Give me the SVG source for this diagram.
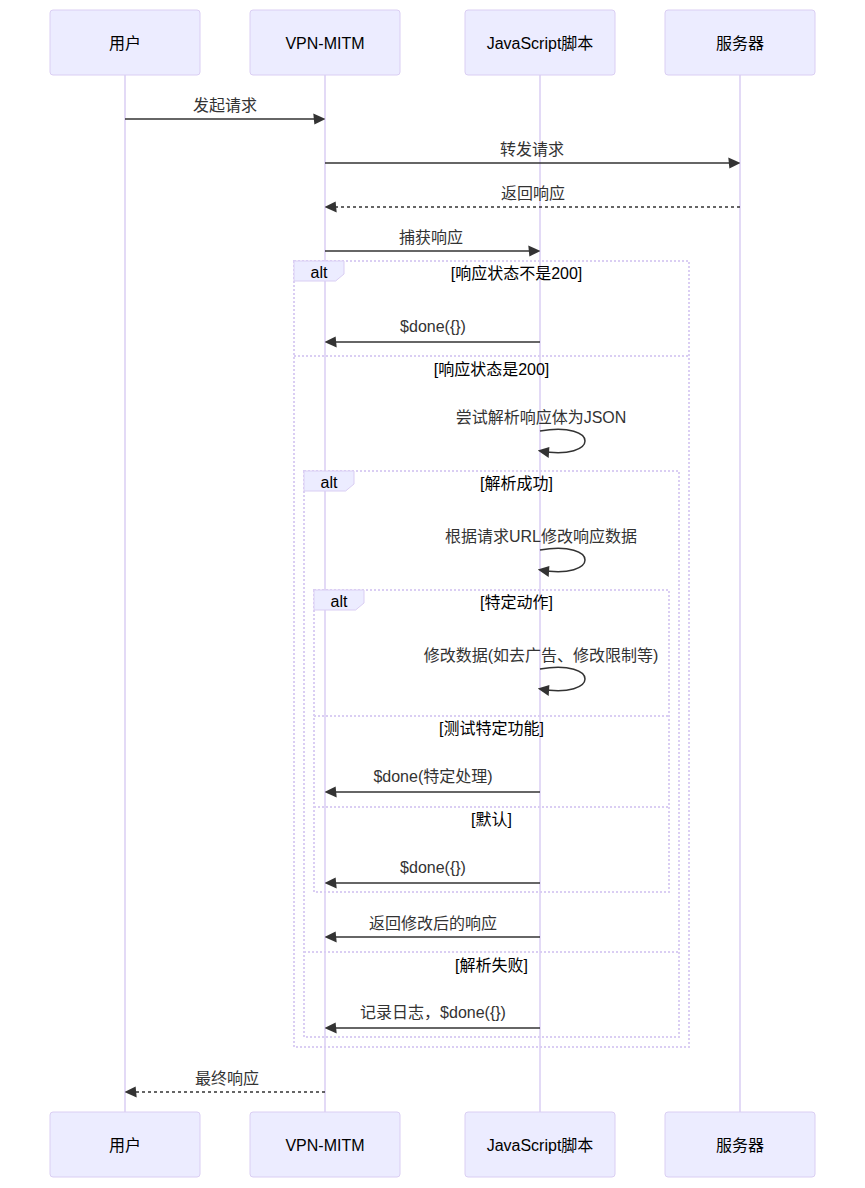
<svg xmlns="http://www.w3.org/2000/svg" width="865" height="1188" viewBox="0 0 865 1188">
<style>
text{font-family:"Liberation Sans","Noto Sans CJK SC",sans-serif;font-size:16px;text-anchor:middle;dominant-baseline:central}
.actor{fill:#ECECFF;stroke:#DACEF3;stroke-width:1}
.life{stroke:#DACEF3;stroke-width:1.5}
.msg{stroke:#333;stroke-width:1.5;fill:none}
.dash{stroke-dasharray:3,3}
.mt{fill:#333}
.lt{fill:#000}
.loop{stroke:#DACEF3;stroke-width:2;stroke-dasharray:2,2;fill:none}
.lbox{fill:#ECECFF;stroke:#DACEF3;stroke-width:1}
.at{fill:#000}
</style>
<defs>
<marker id="ah" viewBox="-1 0 11 10" refX="7.9" refY="5" markerUnits="userSpaceOnUse" markerWidth="12" markerHeight="12" orient="auto">
<path d="M -1 0 L 10 5 L 0 10 z" fill="#333"/>
</marker>
</defs>
<g id="lifelines">
<line class="life" x1="125" y1="75" x2="125" y2="1112"/>
<line class="life" x1="325" y1="75" x2="325" y2="1112"/>
<line class="life" x1="540" y1="75" x2="540" y2="1112"/>
<line class="life" x1="740" y1="75" x2="740" y2="1112"/>
</g>
<g id="actor-user"><rect class="actor" x="50" y="10" width="150" height="65" rx="3"/><text x="125" y="43">用户</text></g>
<g id="actor-vpn"><rect class="actor" x="250" y="10" width="150" height="65" rx="3"/><text x="325" y="43">VPN-MITM</text></g>
<g id="actor-js"><rect class="actor" x="465" y="10" width="150" height="65" rx="3"/><text x="540" y="43">JavaScript脚本</text></g>
<g id="actor-server"><rect class="actor" x="665" y="10" width="150" height="65" rx="3"/><text x="740" y="43">服务器</text></g>
<g id="actor-user-b"><rect class="actor" x="50" y="1112" width="150" height="65" rx="3"/><text x="125" y="1145">用户</text></g>
<g id="actor-vpn-b"><rect class="actor" x="250" y="1112" width="150" height="65" rx="3"/><text x="325" y="1145">VPN-MITM</text></g>
<g id="actor-js-b"><rect class="actor" x="465" y="1112" width="150" height="65" rx="3"/><text x="540" y="1145">JavaScript脚本</text></g>
<g id="actor-server-b"><rect class="actor" x="665" y="1112" width="150" height="65" rx="3"/><text x="740" y="1145">服务器</text></g>
<g id="frames">
<rect class="loop" x="294" y="261" width="395" height="786"/>
<line class="loop" x1="294" y1="356" x2="689" y2="356"/>
<polygon class="lbox" points="294,261 344,261 344,274 335.6,281 294,281"/>
<text class="at" x="319" y="272">alt</text>
<text class="lt" x="516.5" y="273">[响应状态不是200]</text>
<text class="lt" x="491.5" y="369">[响应状态是200]</text>
<rect class="loop" x="304" y="471" width="375" height="566"/>
<line class="loop" x1="304" y1="952" x2="679" y2="952"/>
<polygon class="lbox" points="304,471 354,471 354,484 345.6,491 304,491"/>
<text class="at" x="329" y="482">alt</text>
<text class="lt" x="516.5" y="483">[解析成功]</text>
<text class="lt" x="491.5" y="965">[解析失败]</text>
<rect class="loop" x="314" y="590" width="355" height="302"/>
<line class="loop" x1="314" y1="716" x2="669" y2="716"/>
<line class="loop" x1="314" y1="807" x2="669" y2="807"/>
<polygon class="lbox" points="314,590 364,590 364,603 355.6,610 314,610"/>
<text class="at" x="339" y="601">alt</text>
<text class="lt" x="516.5" y="602">[特定动作]</text>
<text class="lt" x="491.5" y="728">[测试特定功能]</text>
<text class="lt" x="491.5" y="819">[默认]</text>
</g>
<g id="messages">
<text class="mt" x="225" y="105">发起请求</text>
<line class="msg" x1="125" y1="119" x2="323" y2="119" marker-end="url(#ah)"/>
<text class="mt" x="532" y="149">转发请求</text>
<line class="msg" x1="325" y1="163" x2="738" y2="163" marker-end="url(#ah)"/>
<text class="mt" x="533" y="193">返回响应</text>
<line class="msg dash" x1="740" y1="207" x2="327" y2="207" marker-end="url(#ah)"/>
<text class="mt" x="431" y="237">捕获响应</text>
<line class="msg" x1="325" y1="251" x2="538" y2="251" marker-end="url(#ah)"/>
<text class="mt" x="433" y="326">$done({})</text>
<line class="msg" x1="540" y1="342" x2="327" y2="342" marker-end="url(#ah)"/>
<text class="mt" x="541" y="417">尝试解析响应体为JSON</text>
<path class="msg" d="M 540,431 C 600,421 600,461 540,451" marker-end="url(#ah)"/>
<text class="mt" x="541" y="536">根据请求URL修改响应数据</text>
<path class="msg" d="M 540,550 C 600,540 600,580 540,570" marker-end="url(#ah)"/>
<text class="mt" x="541" y="655">修改数据(如去广告、修改限制等)</text>
<path class="msg" d="M 540,669 C 600,659 600,699 540,689" marker-end="url(#ah)"/>
<text class="mt" x="433" y="776">$done(特定处理)</text>
<line class="msg" x1="540" y1="792" x2="327" y2="792" marker-end="url(#ah)"/>
<text class="mt" x="433" y="867">$done({})</text>
<line class="msg" x1="540" y1="883" x2="327" y2="883" marker-end="url(#ah)"/>
<text class="mt" x="433" y="923">返回修改后的响应</text>
<line class="msg" x1="540" y1="937" x2="327" y2="937" marker-end="url(#ah)"/>
<text class="mt" x="433" y="1012">记录日志，$done({})</text>
<line class="msg" x1="540" y1="1028" x2="327" y2="1028" marker-end="url(#ah)"/>
<text class="mt" x="227" y="1078">最终响应</text>
<line class="msg dash" x1="325" y1="1092" x2="127" y2="1092" marker-end="url(#ah)"/>
</g>
</svg>
